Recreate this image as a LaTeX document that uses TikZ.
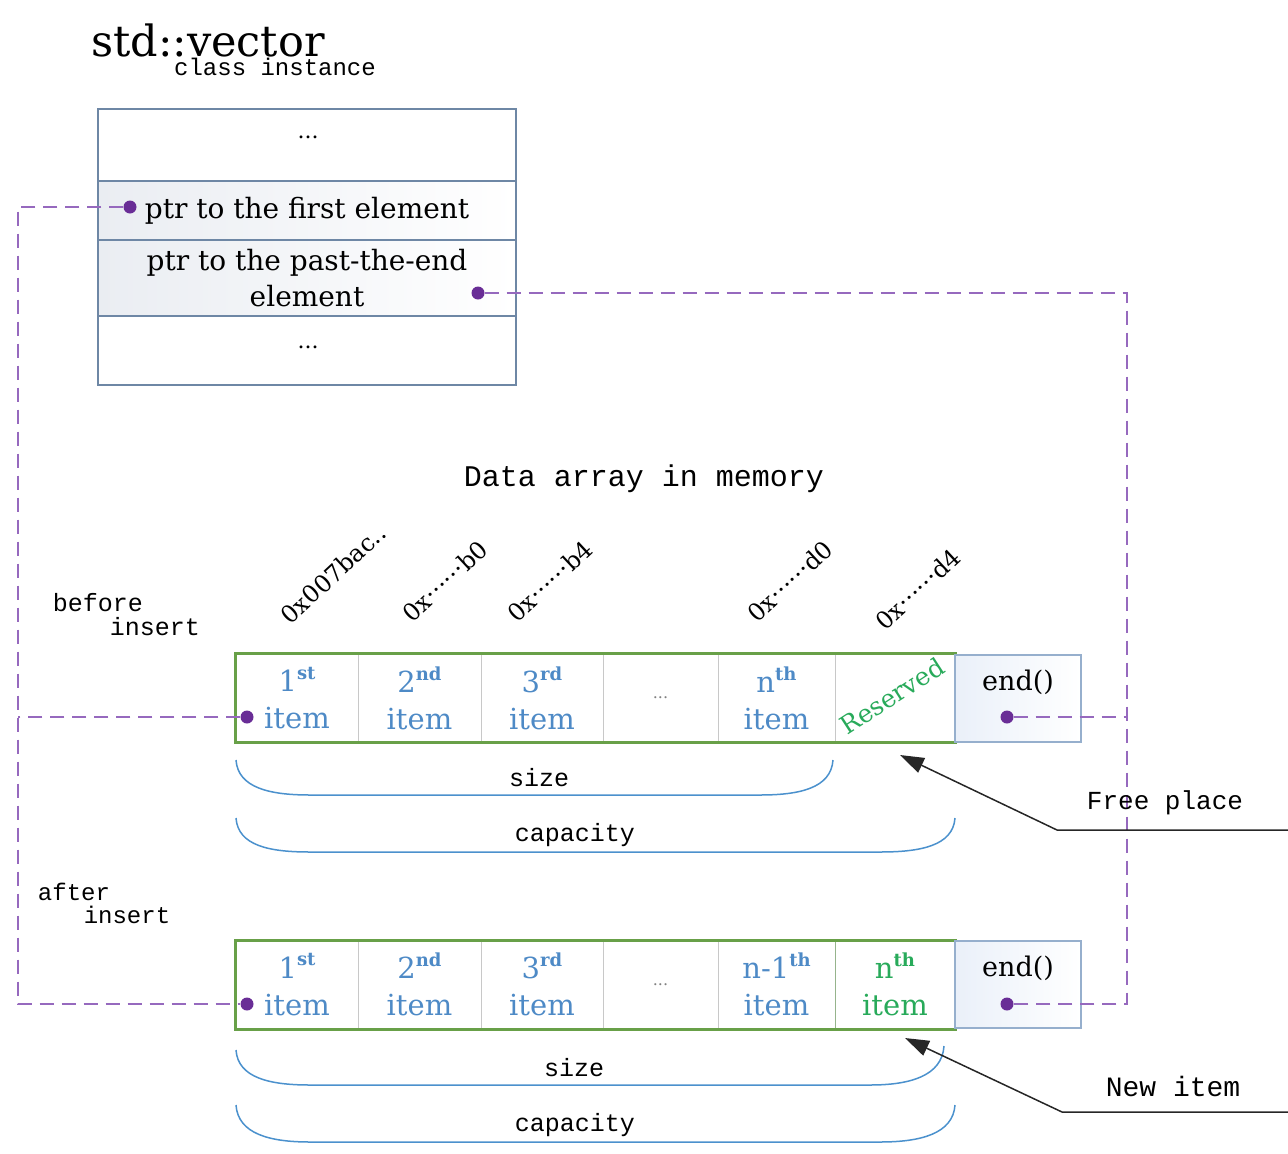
\documentclass[tikz,border=0pt]{standalone}
\usepackage{fontspec}
\setmainfont{DejaVu Serif}
\setmonofont{Liberation Mono}
\usetikzlibrary{arrows.meta,shadings}

\definecolor{itemblue}{RGB}{78,138,198}
\definecolor{resgreen}{RGB}{40,170,90}
\definecolor{bordergreen}{RGB}{104,160,72}
\definecolor{cellgray}{RGB}{200,200,200}
\definecolor{boxblue}{RGB}{110,135,165}
\definecolor{endblue}{RGB}{150,175,205}
\definecolor{endfill}{RGB}{234,240,249}
\definecolor{ptrpurple}{RGB}{150,105,190}
\definecolor{dotpurple}{RGB}{105,45,150}
\definecolor{bracecol}{RGB}{75,145,205}
\definecolor{rowshade}{RGB}{234,237,242}
\definecolor{newcell}{RGB}{150,180,140}

\newcommand\fsz[1]{\fontsize{#1}{#1}\selectfont}
\newcommand\supx[1]{\raisebox{0.42em}{\fontsize{18}{18}\selectfont\bfseries #1}}

\begin{document}
\begin{tikzpicture}[x=1pt,y=-1pt,
  cell/.style={draw=cellgray, line width=1pt, minimum height=88pt, inner sep=0pt, align=center, text=itemblue, font=\fontsize{29}{37}\selectfont},
  endbox/.style={draw=endblue, line width=1.2pt, left color=endfill, right color=white, minimum width=126pt, minimum height=87pt, inner sep=0pt, align=center, font=\fontsize{27}{37}\selectfont},
  crow/.style={draw=boxblue, line width=1.2pt, minimum width=418pt, inner sep=0pt, align=center, font=\fontsize{28}{36}\selectfont},
  dot/.style={circle, fill=dotpurple, inner sep=0pt, minimum size=13pt},
  ptrline/.style={draw=ptrpurple, line width=2pt, dash pattern=on 14pt off 8pt},
  brace/.style={draw=bracecol, line width=1.5pt},
  addr/.style={rotate=43, anchor=south west, inner sep=0pt, font=\fontsize{24}{24}\selectfont},
  callout/.style={draw=black!85, line width=1.5pt, -{Triangle[length=24pt,width=16pt]}},
  plain/.style={inner sep=0pt},
  monotxt/.style={inner sep=0pt, font=\ttfamily\fontsize{#1}{#1}\selectfont}
]
\useasboundingbox (0,0) rectangle (1288,1154);

% ---------- class instance box ----------
\node[plain, font=\fsz{43}] (title) at (208,40) {std::vector};
\node[monotxt=24] (cls) at (275,67) {class instance};

\node[crow, minimum height=72pt] (r1) at (307,145) {};
\node[crow, minimum height=59pt, left color=rowshade, right color=white] (r2) at (307,210.5) {ptr to the first element};
\node[crow, minimum height=76pt, left color=rowshade, right color=white] (r3) at (307,278) {ptr to the past-the-end\\element};
\node[crow, minimum height=69pt] (r4) at (307,350.5) {};
\node[plain, font=\fsz{22}] (dots1) at (308,137) {...};
\node[plain, font=\fsz{22}] (dots2) at (308,347) {...};

\node[dot] (df) at (130,207) {};
\node[dot] (dp) at (478,293) {};

% ---------- data array title ----------
\node[monotxt=30] (dtitle) at (644,479) {Data array in memory};

% ---------- addresses ----------
\node[addr] (ad1) at (291,626) {0x007bac..};
\node[addr] (ad2) at (413,624) {0x······b0};
\node[addr] (ad3) at (518,624) {0x······b4};
\node[addr] (ad4) at (758,624) {0x······d0};
\node[addr] (ad5) at (886,632) {0x······d4};

% ---------- before insert ----------
\node[monotxt=25] (bef1) at (98,603) {before};
\node[monotxt=25] (bef2) at (155,627) {insert};

\node[cell, minimum width=122pt] (a1) at (297,698) {1\supx{st}\\ item};
\node[cell, minimum width=123pt] (a2) at (419.5,698) {2\supx{nd}\\item};
\node[cell, minimum width=122pt] (a3) at (542,698) {3\supx{rd}\\item};
\node[cell, minimum width=115pt, font=\fsz{16}, text=gray] (a4) at (660.5,698) {...};
\node[cell, minimum width=117pt] (a5) at (776.5,698) {n\supx{th}\\item};
\node[cell, minimum width=120pt] (a6) at (895,698) {};
\node[plain, rotate=33, text=resgreen, font=\fsz{25}] (res) at (892,696) {Reserved};
\draw[bordergreen, line width=3pt] (a1.north west) rectangle (a6.south east);
\node[endbox] (aend) at (1018,698.5) {end()\\\mbox{}};

\node[dot] (dt1) at (247,717) {};
\node[dot] (dte) at (1007,717) {};

% braces (top)
\draw[brace] (236,760) .. controls (238,788) and (270,795) .. (310,795) -- (760,795) .. controls (800,795) and (831,788) .. (833,760);
\node[monotxt=25] (size1) at (539,778) {size};
\draw[brace] (236,818) .. controls (238,846) and (270,852) .. (310,852) -- (880,852) .. controls (920,852) and (953,846) .. (955,818);
\node[monotxt=25] (cap1) at (575,835) {capacity};

% ---------- after insert ----------
\node[monotxt=24] (aft1) at (74,892) {after};
\node[monotxt=24] (aft2) at (127,915) {insert};

\node[cell, minimum width=122pt] (b1) at (297,984.5) {1\supx{st}\\ item};
\node[cell, minimum width=123pt] (b2) at (419.5,984.5) {2\supx{nd}\\item};
\node[cell, minimum width=122pt] (b3) at (542,984.5) {3\supx{rd}\\item};
\node[cell, minimum width=115pt, font=\fsz{16}, text=gray] (b4) at (660.5,984.5) {...};
\node[cell, minimum width=117pt] (b5) at (776.5,984.5) {n-1\supx{th}\\item};
\node[cell, minimum width=120pt, text=resgreen, draw=newcell] (b6) at (895,984.5) {n\supx{th}\\item};
\draw[bordergreen, line width=3pt] (b1.north west) rectangle (b6.south east);
\node[endbox] (bend) at (1018,984.5) {end()\\\mbox{}};

\node[dot] (db1) at (247,1004) {};
\node[dot] (dbe) at (1007,1004) {};

% braces (bottom)
\draw[brace] (236,1050) .. controls (238,1078) and (270,1085) .. (310,1085) -- (870,1085) .. controls (910,1085) and (942,1076) .. (944,1046);
\node[monotxt=25] (size2) at (574,1068) {size};
\draw[brace] (236,1105) .. controls (238,1134) and (270,1142) .. (310,1142) -- (880,1142) .. controls (920,1142) and (953,1134) .. (955,1105);
\node[monotxt=25] (cap2) at (575,1125) {capacity};

% ---------- pointer connectors ----------
\coordinate (cL1) at (18,207);
\coordinate (cL2) at (18,1004);
\coordinate (cR1) at (1127,293);
\coordinate (cR2) at (1127,1004);
\draw[ptrline] (df) -- (cL1) -- (cL2) -- (db1);
\draw[ptrline] (dt1) -- (dt1 -| cL1);
\draw[ptrline] (dp) -- (cR1) -- (cR2) -- (dbe);
\draw[ptrline] (dte) -- (dte -| cR1);

% ---------- callouts ----------
\node[monotxt=26] (free) at (1165,803) {Free place};
\coordinate (fpEnd) at (1288,830);
\coordinate (fpElb) at (1057,830);
\coordinate (fpTip) at (900,755);
\draw[callout] (fpEnd) -- (fpElb) -- (fpTip);

\node[monotxt=28] (newit) at (1173,1086) {New item};
\coordinate (niEnd) at (1288,1112);
\coordinate (niElb) at (1062,1112);
\coordinate (niTip) at (905,1038);
\draw[callout] (niEnd) -- (niElb) -- (niTip);
\end{tikzpicture}
\end{document}
